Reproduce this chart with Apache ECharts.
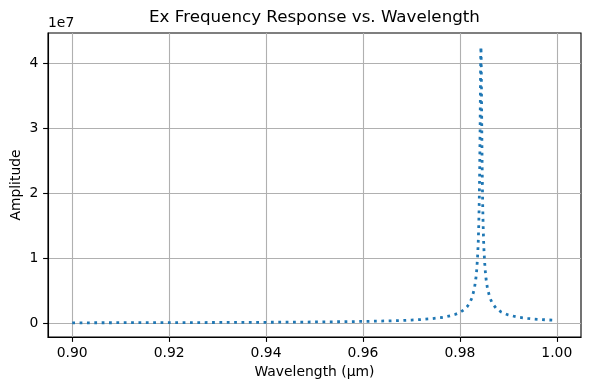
<!DOCTYPE html>
<html>
<head>
<meta charset="utf-8">
<script src="https://cdn.jsdelivr.net/npm/echarts@6/dist/echarts.min.js"></script>
<style>
html,body{margin:0;padding:0;background:#fff;}
#c{width:590px;height:390px;}
</style>
</head>
<body>
<div id="c"></div>
<script>
// Wavelength (µm) samples
const wavelengths = [
  0.900, 0.910, 0.920, 0.930, 0.940, 0.950, 0.955, 0.960, 0.965, 0.968,
  0.970, 0.972, 0.974, 0.976, 0.977, 0.978, 0.979, 0.980, 0.981, 0.9815,
  0.982, 0.9825, 0.983, 0.9833, 0.9835, 0.9837, 0.9838, 0.9839, 0.9840, 0.9841,
  0.98418, 0.98425, 0.98431, 0.98435, 0.98439, 0.98445, 0.98452, 0.9846, 0.9847, 0.9848,
  0.9849, 0.9850, 0.9852, 0.9854, 0.9857, 0.9862, 0.9867, 0.9875, 0.9885, 0.990,
  0.992, 0.994, 0.996, 0.998, 1.000
];
// Amplitude values
const amplitudes = [
  8.65e4, 9.82e4, 1.134e5, 1.343e5, 1.646e5, 2.125e5, 2.487e5, 2.998e5, 3.773e5, 4.465e5,
  5.087e5, 5.911e5, 7.053e5, 8.743e5, 9.932e5, 1.1496e6, 1.3645e6, 1.678e6, 2.179e6, 2.561e6,
  3.106e6, 3.929e6, 5.364e6, 6.862e6, 8.419e6, 1.0859e7, 1.2671e7, 1.5159e7, 1.8730e7, 2.4081e7,
  3.0234e7, 3.6778e7, 4.1461e7, 4.2576e7, 4.146e7, 3.678e7, 3.023e7, 2.408e7, 1.873e7, 1.516e7,
  1.267e7, 1.086e7, 8.42e6, 6.86e6, 5.36e6, 3.93e6, 3.098e6, 2.314e6, 1.7575e6, 1.292e6,
  9.54e5, 7.56e5, 6.27e5, 5.35e5, 4.66e5
];
const xTicks = [0.90, 0.92, 0.94, 0.96, 0.98, 1.00];
const yTicks = [0, 1e7, 2e7, 3e7, 4e7];
const titleText = 'Ex Frequency Response vs. Wavelength';
const xLabel = 'Wavelength (µm)';
const yLabel = 'Amplitude';
const yOffsetText = '1e7';

const FONT = 'DejaVu Sans';
const seriesData = wavelengths.map((w, i) => [w, amplitudes[i]]);

const chart = echarts.init(document.getElementById('c'), null, {renderer: 'canvas'});
const G = {left: 48, right: 9, top: 33, bottom: 53};
chart.setOption({
  animation: false,
  backgroundColor: '#fff',
  grid: {left: G.left, right: G.right, top: G.top, bottom: G.bottom,
         show: true, borderColor: '#000', borderWidth: 1.1, backgroundColor: 'transparent'},
  xAxis: {
    type: 'value', min: 0.895, max: 1.005,
    axisLine: {show: true, onZero: false, lineStyle: {color: '#000', width: 1.1}},
    axisTick: {show: true, inside: false, length: 4.9, customValues: xTicks,
               lineStyle: {color: '#000', width: 1.1}},
    axisLabel: {show: true, customValues: xTicks, margin: 9.7, color: '#000',
                fontFamily: FONT, fontSize: 13.9,
                formatter: v => v.toFixed(2)},
    splitLine: {show: true, lineStyle: {color: '#b0b0b0', width: 1.1}}
  },
  yAxis: {
    type: 'value', min: -2.1e6, max: 4.47e7,
    axisLine: {show: true, onZero: false, lineStyle: {color: '#000', width: 1.1}},
    axisTick: {show: true, inside: false, length: 4.9, customValues: yTicks,
               lineStyle: {color: '#000', width: 1.1}},
    axisLabel: {show: true, customValues: yTicks, margin: 9.7, color: '#000',
                fontFamily: FONT, fontSize: 13.9,
                formatter: v => String(Math.round(v / 1e7))},
    splitLine: {show: true, lineStyle: {color: '#b0b0b0', width: 1.1}}
  },
  series: [{
    type: 'line', data: seriesData, showSymbol: false, symbol: 'none',
    lineStyle: {color: '#1f77b4', width: 2.78, type: [2.78, 4.58], cap: 'butt'},
    z: 3
  }],
  graphic: [
    {type: 'text', x: 314.5, y: 18, z: 10,
     style: {text: titleText, font: '16.7px "DejaVu Sans"', fill: '#000',
             align: 'center', verticalAlign: 'middle'}},
    {type: 'text', x: 48, y: 23.5, z: 10,
     style: {text: yOffsetText, font: '13.9px "DejaVu Sans"', fill: '#000',
             align: 'left', verticalAlign: 'middle'}},
    {type: 'text', x: 16, y: 185, rotation: Math.PI / 2, z: 10,
     style: {text: yLabel, font: '13.9px "DejaVu Sans"', fill: '#000',
             align: 'center', verticalAlign: 'middle'}},
    {type: 'text', x: 314.5, y: 372, z: 10,
     style: {text: xLabel, font: '13.9px "DejaVu Sans"', fill: '#000',
             align: 'center', verticalAlign: 'middle'}}
  ]
});
</script>
</body>
</html>
